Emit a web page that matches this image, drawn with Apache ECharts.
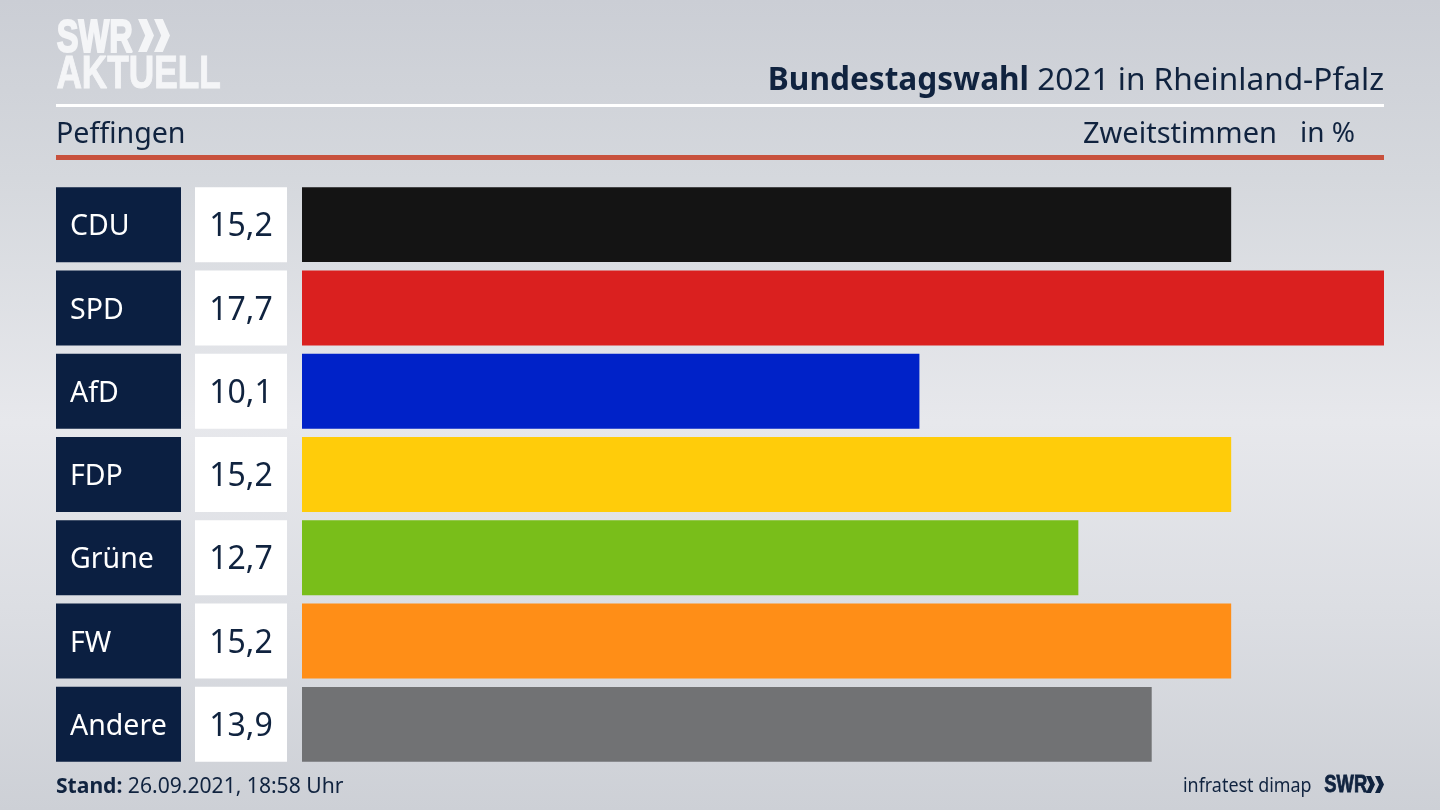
<!DOCTYPE html>
<html>
<head>
<meta charset="utf-8">
<title>Bundestagswahl 2021 in Rheinland-Pfalz</title>
<script src="https://cdn.jsdelivr.net/npm/echarts@6/dist/echarts.min.js"></script>
<style>
  html, body { margin: 0; padding: 0; }
  #chart { width: 1440px; height: 810px; }
</style>
</head>
<body>
<div id="chart"></div>
<script>
const parties = ['CDU', 'SPD', 'AfD', 'FDP', 'Grüne', 'FW', 'Andere'];
const shares = [15.2, 17.7, 10.1, 15.2, 12.7, 15.2, 13.9];
const partyColors = ['#141414', '#da201f', '#0022c8', '#ffcc0a', '#79be1a', '#ff8e17', '#717274'];

const navy = '#0b1f41';
const textColor = '#10233f';
const logoWhite = '#f4f5f7';
const font = '"Noto Sans", sans-serif';
const logoFont = '"Liberation Sans", sans-serif';

function formatShare(value) {
  return value.toFixed(1).replace('.', ',');
}

// double chevron of the SWR logo
function chevrons(x, y, w, h, fill) {
  const one = (left) => ({
    type: 'polygon',
    shape: {
      points: [
        [left, y], [left + w * 0.55, y], [left + w, y + h / 2],
        [left + w * 0.55, y + h], [left, y + h], [left + w * 0.45, y + h / 2]
      ]
    },
    style: { fill }
  });
  return [one(x), one(x + w)];
}

const chart = echarts.init(document.getElementById('chart'));

chart.setOption({
  animation: false,
  backgroundColor: new echarts.graphic.LinearGradient(0, 0, 0, 1, [
    { offset: 0, color: '#cbced5' },
    { offset: 0.22, color: '#d5d8dd' },
    { offset: 0.52, color: '#e7e8ec' },
    { offset: 0.75, color: '#dcdee3' },
    { offset: 1, color: '#cdd0d6' }
  ]),
  grid: { left: 302, right: 56, top: 183, bottom: 44, containLabel: false },
  xAxis: { type: 'value', min: 0, max: 17.7, show: false },
  yAxis: {
    type: 'category',
    inverse: true,
    data: parties,
    axisLine: { show: false },
    axisTick: { show: false },
    axisLabel: {
      margin: 15,
      interval: 0,
      formatter: (name, i) => `{party|${name}}{gap|}{share|${formatShare(shares[i])}}`,
      rich: {
        party: {
          width: 111, height: 70, padding: [5, 0, 0, 14], align: 'left', verticalAlign: 'middle',
          backgroundColor: navy, color: '#ffffff', fontFamily: font, fontSize: 28.5
        },
        gap: { width: 14, height: 75 },
        share: {
          width: 92, height: 70, padding: [5, 0, 0, 0], align: 'center', verticalAlign: 'middle',
          backgroundColor: '#ffffff', color: textColor, fontFamily: font, fontSize: 32
        }
      }
    }
  },
  series: [{
    type: 'bar',
    barCategoryGap: '10%',
    data: shares.map((value, i) => ({ value, itemStyle: { color: partyColors[i] } }))
  }],
  graphic: [
    {
      type: 'text', left: 56, top: 15, scaleX: 0.694,
      style: { text: 'SWR', fontFamily: logoFont, fontWeight: 'bold', fontSize: 47, fill: logoWhite, stroke: logoWhite, lineWidth: 2 }
    },
    {
      type: 'text', left: 56, top: 51, scaleX: 0.75,
      style: { text: 'AKTUELL', fontFamily: logoFont, fontWeight: 'bold', fontSize: 47, fill: logoWhite, stroke: logoWhite, lineWidth: 1 }
    },
    ...chevrons(138, 19, 16, 33, logoWhite),
    { type: 'rect', shape: { x: 56, y: 104, width: 1328, height: 3 }, style: { fill: '#ffffff' } },
    { type: 'rect', shape: { x: 56, y: 155, width: 1328, height: 5 }, style: { fill: '#c8513d' } },
    {
      type: 'text', right: 56, top: 65,
      style: {
        rich: {
          b: { fontFamily: font, fontWeight: 'bold', fontSize: 31.6, fill: textColor },
          n: { fontFamily: font, fontSize: 31.6, fill: textColor }
        },
        text: '{b|Bundestagswahl}{n| 2021 in Rheinland-Pfalz}'
      }
    },
    {
      type: 'text', left: 56, top: 120,
      style: { text: 'Peffingen', fontFamily: font, fontSize: 28.6, fill: textColor }
    },
    {
      type: 'text', right: 163, top: 120,
      style: { text: 'Zweitstimmen', fontFamily: font, fontSize: 29, fill: textColor }
    },
    {
      type: 'text', right: 85, top: 120,
      style: { text: 'in %', fontFamily: font, fontSize: 28, fill: textColor }
    },
    {
      type: 'text', left: 56, top: 776,
      style: {
        rich: {
          b: { fontFamily: font, fontWeight: 'bold', fontSize: 21.1, fill: textColor },
          n: { fontFamily: font, fontSize: 21.1, fill: textColor }
        },
        text: '{b|Stand:}{n| 26.09.2021, 18:58 Uhr}'
      }
    },
    {
      type: 'text', left: 1183, top: 776, scaleX: 0.895,
      style: { text: 'infratest dimap', fontFamily: font, fontSize: 20, fill: textColor }
    },
    {
      type: 'text', left: 1324, top: 774, scaleX: 0.8,
      style: { text: 'SWR', fontFamily: logoFont, fontWeight: 'bold', fontSize: 23, fill: textColor, stroke: textColor, lineWidth: 0.8 }
    },
    ...chevrons(1366, 776, 9, 17, textColor)
  ]
});
</script>
</body>
</html>
